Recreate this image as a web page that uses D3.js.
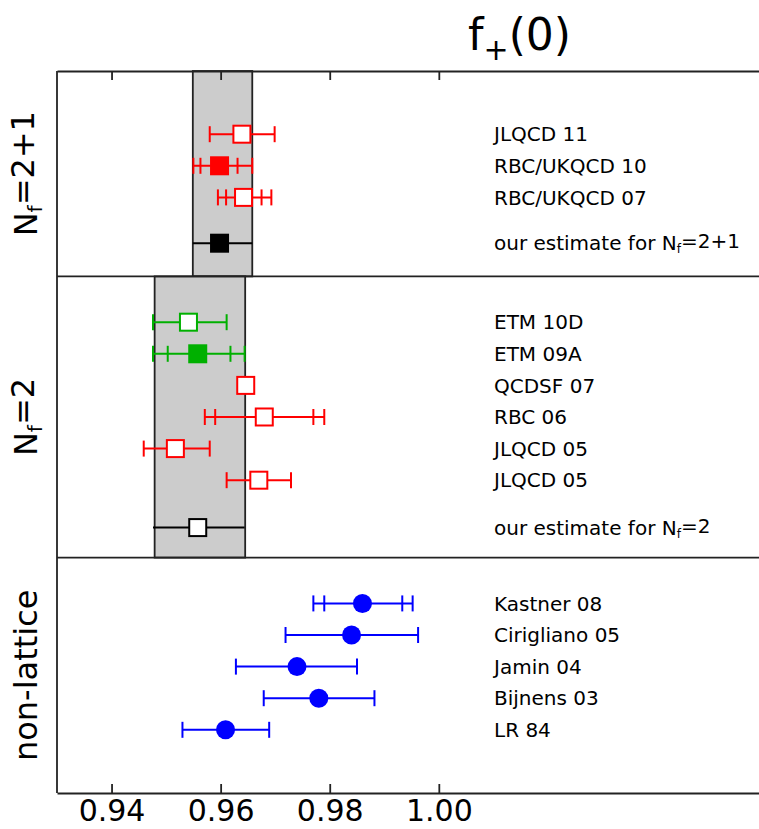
<html>
  <head>
    <script src="https://d3js.org/d3.v7.min.js"></script>
    <style>
      body { margin: 0; background: #fff; }
      text { font-family: "DejaVu Sans", sans-serif; }
    </style>
  </head>
  <body>
    <svg class="chart"></svg>
  </body>
  <script>
  // one entry per row, top to bottom
  const labels = ["JLQCD 11", "RBC/UKQCD 10", "RBC/UKQCD 07", "our estimate for N|f|=2+1",
    "ETM 10D", "ETM 09A", "QCDSF 07", "RBC 06", "JLQCD 05", "JLQCD 05", "our estimate for N|f|=2",
    "Kastner 08", "Cirigliano 05", "Jamin 04", "Bijnens 03", "LR 84"];
  const rowPos = [2, 3, 4, 5.45, 7.95, 8.95, 9.95, 10.95, 11.95, 12.95, 14.45,
    16.85, 17.85, 18.85, 19.85, 20.85];
  const centers = [0.9639, 0.9598, 0.9642, 0.9598, 0.9541, 0.9558, 0.9646, 0.9680, 0.9517, 0.9670, 0.9558,
    0.9860, 0.9840, 0.9740, 0.9780, 0.9609];
  const lowTotal = [0.9580, 0.9550, 0.9595, 0.9549, 0.9476, 0.9476, null, 0.9571, 0.9459, 0.9611, 0.9476,
    0.9770, 0.9719, 0.9628, 0.9679, 0.9530];
  const highTotal = [0.9699, 0.9658, 0.9693, 0.9658, 0.9611, 0.9644, null, 0.9790, 0.9580, 0.9729, 0.9644,
    0.9952, 0.9962, 0.9850, 0.9882, 0.9689];
  const lowStat = [null, 0.9563, 0.9610, null, null, 0.9503, null, 0.9590, null, null, null,
    0.9790, null, null, null, null];
  const highStat = [null, 0.9631, 0.9675, null, null, 0.9618, null, 0.9770, null, null, null,
    0.9933, null, null, null, null];
  const colors = ["red", "red", "red", "black", "green", "green", "red", "red", "red", "red", "black",
    "blue", "blue", "blue", "blue", "blue"];
  const filled = [false, true, false, true, false, true, false, false, false, false, false,
    true, true, true, true, true];
  const shapes = ["sq", "sq", "sq", "sq", "sq", "sq", "sq", "sq", "sq", "sq", "sq",
    "circ", "circ", "circ", "circ", "circ"];
  const estimate = [false, false, false, true, false, false, false, false, false, false, true,
    false, false, false, false, false];

  const panelNames = ["N|f|=2+1", "N|f|=2", "non-lattice"];
  const panelTop = [0, 6.5, 15.4];
  const panelBottom = [6.5, 15.4, 22.85];
  const bandLow = [0.9549, 0.9479, null];
  const bandHigh = [0.9658, 0.9645, null];

  const xTicks = [0.94, 0.96, 0.98, 1.00];
  const colorMap = {red: "#ff0000", green: "#00b000", blue: "#0000ff", black: "#000000"};

  const width = 759, height = 829;
  const x = d3.scaleLinear().domain([0.93, 1.0587]).range([57, 759]);
  const y = d3.scaleLinear().domain([0, 22.85]).range([71, 793]);

  const svg = d3.select('.chart')
    .attr('width', width)
    .attr('height', height)
    .attr('viewBox', [0, 0, width, height]);

  // writes "A|sub|B" as text with a subscript
  function subText(sel, str, subSize){
    let parts = str.split('|');
    sel.append('tspan').text(parts[0]);
    if(parts.length > 1){
      sel.append('tspan').attr('dy', '0.25em').attr('font-size', subSize).text(parts[1]);
      sel.append('tspan').attr('dy', '-0.25em').text(parts[2]);
    }
  }

  // grey bands of the estimates
  const panels = d3.range(panelNames.length);
  svg.selectAll('rect.band')
    .data(panels.filter(i => bandLow[i] !== null))
    .join('rect')
      .attr('class', 'band')
      .attr('x', i => x(bandLow[i]))
      .attr('y', i => y(panelTop[i]))
      .attr('width', i => x(bandHigh[i]) - x(bandLow[i]))
      .attr('height', i => y(panelBottom[i]) - y(panelTop[i]))
      .attr('fill', '#cccccc')
      .attr('stroke', '#222')
      .attr('stroke-width', 1.8);

  // panel separators
  svg.selectAll('line.sep')
    .data(panelBottom.slice(0, -1))
    .join('line')
      .attr('class', 'sep')
      .attr('x1', x.range()[0]).attr('x2', x.range()[1])
      .attr('y1', d => y(d)).attr('y2', d => y(d))
      .attr('stroke', '#222').attr('stroke-width', 1.8);

  // panel titles on the left
  panels.forEach(i => {
    let t = svg.append('text')
      .attr('transform', `translate(37,${(y(panelTop[i]) + y(panelBottom[i])) / 2}) rotate(-90)`)
      .attr('text-anchor', 'middle')
      .attr('font-size', 32);
    subText(t, panelNames[i], 20);
  });

  const rows = d3.range(labels.length);
  const cap = 8;

  // error bars
  const bars = svg.append('g').selectAll('g')
    .data(rows.filter(i => lowTotal[i] !== null))
    .join('g')
      .attr('stroke', i => colorMap[colors[i]])
      .attr('stroke-width', 2);

  bars.append('line')
    .attr('x1', i => x(lowTotal[i])).attr('x2', i => x(highTotal[i]))
    .attr('y1', i => y(rowPos[i])).attr('y2', i => y(rowPos[i]));

  bars.each(function(i){
    if(estimate[i]) return;
    let g = d3.select(this);
    let ends = [lowTotal[i], highTotal[i]];
    if(lowStat[i] !== null) ends.push(lowStat[i], highStat[i]);
    g.selectAll('line.cap')
      .data(ends)
      .join('line')
        .attr('class', 'cap')
        .attr('x1', d => x(d)).attr('x2', d => x(d))
        .attr('y1', y(rowPos[i]) - cap).attr('y2', y(rowPos[i]) + cap);
  });

  // markers
  const sq = 17;
  svg.append('g').selectAll('rect')
    .data(rows.filter(i => shapes[i] === 'sq'))
    .join('rect')
      .attr('x', i => x(centers[i]) - sq / 2)
      .attr('y', i => y(rowPos[i]) - sq / 2)
      .attr('width', sq).attr('height', sq)
      .attr('fill', i => filled[i] ? colorMap[colors[i]] : '#fff')
      .attr('stroke', i => colorMap[colors[i]])
      .attr('stroke-width', 2);

  svg.append('g').selectAll('circle')
    .data(rows.filter(i => shapes[i] === 'circ'))
    .join('circle')
      .attr('cx', i => x(centers[i]))
      .attr('cy', i => y(rowPos[i]))
      .attr('r', 9.5)
      .attr('fill', i => colorMap[colors[i]]);

  // row labels
  rows.forEach(i => {
    let t = svg.append('text')
      .attr('x', 494)
      .attr('y', y(rowPos[i]))
      .attr('dy', '0.36em')
      .attr('font-size', 20);
    subText(t, labels[i], 12);
  });

  // axes
  const bottomAxis = svg.append('g')
    .attr('transform', `translate(0,${y(22.85)})`)
    .call(d3.axisBottom(x).tickValues(xTicks).tickFormat(d3.format('.2f'))
      .tickSizeInner(-9).tickSizeOuter(0).tickPadding(7));
  bottomAxis.selectAll('text').attr('font-size', 30).attr('font-family', '"DejaVu Sans", sans-serif').attr('fill', '#000');

  svg.append('g')
    .attr('transform', `translate(0,${y(0)})`)
    .call(d3.axisTop(x).tickValues(xTicks).tickFormat('')
      .tickSizeInner(-9).tickSizeOuter(0));

  svg.selectAll('.domain, .tick line').attr('stroke', '#222').attr('stroke-width', 1.8);

  svg.append('line')
    .attr('x1', x.range()[0]).attr('x2', x.range()[0])
    .attr('y1', y(0)).attr('y2', y(22.85))
    .attr('stroke', '#222').attr('stroke-width', 1.8);

  // title
  const title = svg.append('text')
    .attr('x', 468).attr('y', 50)
    .attr('font-size', 44);
  title.append('tspan').text('f');
  title.append('tspan').attr('dy', 10).attr('font-size', 30).text('+');
  title.append('tspan').attr('dy', -10).text('(0)');
  </script>
</html>
